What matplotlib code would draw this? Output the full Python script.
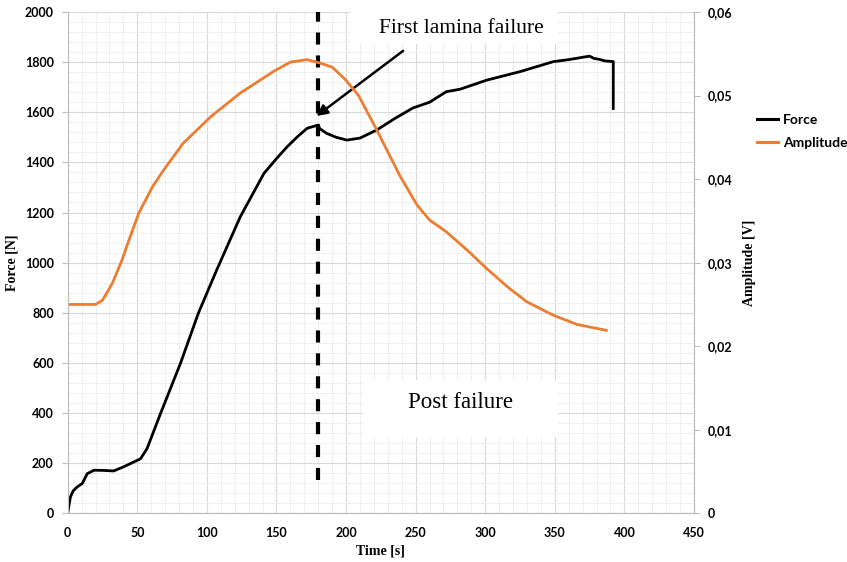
import numpy as np
import matplotlib
matplotlib.use("Agg")
import matplotlib.pyplot as plt
from matplotlib.ticker import MultipleLocator, FuncFormatter
from matplotlib.patches import Rectangle

# force curve (time [s], force [N])
force_t = [0, 1, 2, 4, 7, 10.5, 14, 19, 26, 33, 40, 47.6, 52.4, 57, 66.7, 81, 94,
           107, 124, 141, 150, 157.6, 165, 172, 180, 181, 186, 193, 200.6, 210, 222, 235,
           248, 260, 272, 282, 301, 325, 349, 360, 375, 378, 382, 386, 392, 392]
force_n = [0, 35, 66, 90, 106, 119, 158, 172, 171, 169, 185, 205, 218, 258, 398, 598, 800,
           970, 1183, 1356, 1415, 1462, 1502, 1536, 1549, 1535, 1516, 1500, 1489, 1497, 1529, 1575,
           1617, 1640, 1682, 1692, 1728, 1762, 1802, 1810, 1824, 1815, 1811, 1805, 1802, 1615]

# acoustic amplitude (time [s], amplitude [V])
amp_t = [0, 20, 25, 32, 39, 44, 51, 61, 69, 83, 103, 124, 148, 160, 172, 181, 190,
         199, 209, 222, 232, 239, 251, 260, 272, 287, 301, 316, 330, 349, 366, 378, 387]
amp_v = [0.0250, 0.0250, 0.0255, 0.0275, 0.0303, 0.0327, 0.0359, 0.0391, 0.0411,
         0.0443, 0.0475, 0.0503, 0.0529, 0.0540, 0.0543, 0.0539, 0.0534, 0.0520,
         0.0500, 0.0459, 0.0426, 0.0403, 0.0369, 0.0351, 0.0337, 0.0315, 0.0293,
         0.0271, 0.0253, 0.0237, 0.0226, 0.0222, 0.0219]

failure_t = 180.2
orange = "#ED7D31"
tickfont = dict(family="Lato", weight="bold", size=9)

fig = plt.figure(figsize=(8.47, 5.62), dpi=100)
ax = fig.add_axes([67.7/847, 1-513.3/562, 626.3/847, 501.3/562])
ax2 = ax.twinx()

ax.set_xlim(0, 450)
ax.set_ylim(0, 2000)
ax2.set_ylim(0, 0.06)

ax.xaxis.set_major_locator(MultipleLocator(50))
ax.xaxis.set_minor_locator(MultipleLocator(10))
ax.yaxis.set_major_locator(MultipleLocator(200))
ax.yaxis.set_minor_locator(MultipleLocator(40))
ax2.yaxis.set_major_locator(MultipleLocator(0.01))
ax2.yaxis.set_major_formatter(FuncFormatter(
    lambda v, p: "0" if abs(v) < 1e-9 else ("%.2f" % v).replace(".", ",")))

ax.grid(which="major", color="#d9d9d9", lw=0.8)
ax.grid(which="minor", color="#efefef", lw=0.7)
ax.set_axisbelow(True)

for a in (ax, ax2):
    for s in a.spines.values():
        s.set_color("#bfbfbf")
    a.spines["top"].set_visible(False)
ax.tick_params(axis="x", which="both", length=0, pad=10)
ax.tick_params(axis="y", which="major", length=4, color="#bfbfbf", pad=6)
ax.tick_params(axis="y", which="minor", length=0)
ax2.tick_params(axis="y", which="major", length=4, color="#bfbfbf", pad=6)
for lab in ax.get_xticklabels() + ax.get_yticklabels() + ax2.get_yticklabels():
    lab.set_fontfamily(tickfont["family"])
    lab.set_fontweight(tickfont["weight"])
    lab.set_fontsize(tickfont["size"])

labfont = dict(family="Liberation Serif", weight="bold", size=10)
ax.set_xlabel("Time [s]", **labfont)
ax.set_ylabel("Force [N]", **labfont)
ax2.set_ylabel("Amplitude [V]", **labfont)
ax.xaxis.set_label_coords(0.5, -0.063)
ax.yaxis.set_label_coords(-0.078, 0.5)
ax2.yaxis.set_label_coords(1.078, 0.5)

# white boxes behind the annotations
ax.add_patch(Rectangle((203, 1874), 149, 140, facecolor="white", edgecolor="none",
                       zorder=1.5))
ax.add_patch(Rectangle((212, 305), 140, 228, facecolor="white", edgecolor="none",
                       zorder=1.5))

ax.plot(force_t, force_n, color="black", lw=2, solid_joinstyle="round", zorder=3)
ax2.plot(amp_t, amp_v, color=orange, lw=2, solid_joinstyle="round")

ax.plot([failure_t, failure_t], [133, 2000], color="black", lw=3,
        linestyle=(0, (2.9, 2.6)), dash_capstyle="butt", zorder=4, clip_on=False)

ax.text(283, 1933, "First lamina failure", ha="center", va="center",
        family="Liberation Serif", fontsize=15.5, zorder=5)
ax.annotate("", xy=(178.8, 1585), xytext=(241, 1845),
            arrowprops=dict(arrowstyle="-|>", color="black", lw=1.8,
                            mutation_scale=16, shrinkA=0, shrinkB=0), zorder=5)
ax.text(282, 441, "Post failure", ha="center", va="center",
        family="Liberation Serif", fontsize=16.5, zorder=5)

h1 = plt.Line2D([], [], color="black", lw=2.2)
h2 = plt.Line2D([], [], color=orange, lw=2.2)
fig.legend([h1, h2], ["Force", "Amplitude"], loc="center left",
           bbox_to_anchor=(757/847, 1-131.5/562), frameon=False, borderpad=0,
           borderaxespad=0, handlelength=1.5, handletextpad=0.36, labelspacing=0.8,
           prop=dict(family="Lato", size=10, weight="bold"))

fig.savefig("out.png", dpi=100)
